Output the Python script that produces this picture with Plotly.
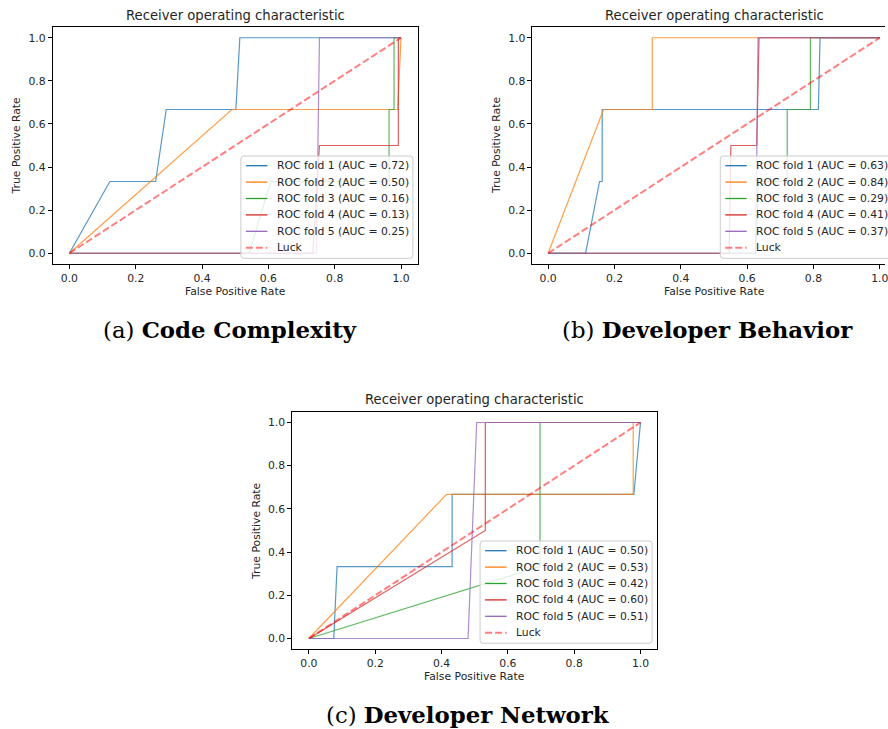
import plotly.graph_objects as go

W, H = 888, 729

FOLD_COLORS = ["#1f77b4", "#ff7f0e", "#2ca02c", "#d62728", "#9467bd"]
LUCK_COLOR = "rgba(255,0,0,0.5)"
TEXT_COLOR = "#262626"
TICKS = [0.0, 0.2, 0.4, 0.6, 0.8, 1.0]
TICK_TEXT = [f"{t:.1f}" for t in TICKS]
LUCK_FPR = [0.0, 1.0]
LUCK_TPR = [0.0, 1.0]

# (a) Code Complexity
cc_fpr = [
    [0.0, 0.122, 0.26, 0.292, 0.502, 0.514, 1.0],
    [0.0, 0.49, 0.99, 1.0],
    [0.0, 0.542, 0.607, 0.964, 0.964, 0.979, 0.979, 1.0],
    [0.0, 0.734, 0.754, 0.992, 0.992, 1.0],
    [0.0, 0.745, 0.754, 1.0],
]
cc_tpr = [
    [0.0, 0.333, 0.333, 0.667, 0.667, 1.0, 1.0],
    [0.0, 0.667, 0.667, 1.0],
    [0.0, 0.0, 0.333, 0.333, 0.667, 0.667, 1.0, 1.0],
    [0.0, 0.0, 0.5, 0.5, 1.0, 1.0],
    [0.0, 0.0, 1.0, 1.0],
]
cc_auc = [0.72, 0.50, 0.16, 0.13, 0.25]

# (b) Developer Behavior
db_fpr = [
    [0.0, 0.113, 0.155, 0.163, 0.163, 0.815, 0.82, 1.0],
    [0.0, 0.167, 0.314, 0.314, 1.0],
    [0.0, 0.625, 0.635, 0.721, 0.721, 0.791, 0.791, 1.0],
    [0.0, 0.546, 0.551, 0.629, 0.636, 1.0],
    [0.0, 0.626, 0.633, 1.0],
]
db_tpr = [
    [0.0, 0.0, 0.333, 0.333, 0.667, 0.667, 1.0, 1.0],
    [0.0, 0.667, 0.667, 1.0, 1.0],
    [0.0, 0.0, 0.333, 0.333, 0.667, 0.667, 1.0, 1.0],
    [0.0, 0.0, 0.5, 0.5, 1.0, 1.0],
    [0.0, 0.0, 1.0, 1.0],
]
db_auc = [0.63, 0.84, 0.29, 0.41, 0.37]

# (c) Developer Network
dn_fpr = [
    [0.0, 0.075, 0.085, 0.432, 0.432, 0.98, 1.0],
    [0.0, 0.415, 0.978, 0.978, 1.0],
    [0.0, 0.697, 0.697, 1.0],
    [0.0, 0.532, 0.532, 1.0],
    [0.0, 0.48, 0.506, 1.0],
]
dn_tpr = [
    [0.0, 0.0, 0.333, 0.333, 0.667, 0.667, 1.0],
    [0.0, 0.667, 0.667, 1.0, 1.0],
    [0.0, 0.333, 1.0, 1.0],
    [0.0, 0.5, 1.0, 1.0],
    [0.0, 0.0, 1.0, 1.0],
]
dn_auc = [0.50, 0.53, 0.42, 0.60, 0.51]

TITLE = "Receiver operating characteristic"
X_LABEL = "False Positive Rate"
Y_LABEL = "True Positive Rate"
CAPTIONS = ["(a) <b>Code Complexity</b>", "(b) <b>Developer Behavior</b>",
            "(c) <b>Developer Network</b>"]

# panel layout in pixels: axes box (left, top, right, bottom), x range,
# legend top-left corner, caption centre
PANELS = [
    dict(ax="", box=(53, 27, 419, 264), xr=(-0.05, 1.05), full_right=419,
         leg=(241.7, 156), cap=(230.5, 330), fpr=cc_fpr, tpr=cc_tpr, auc=cc_auc, mirror_y=True),
    dict(ax="2", box=(534.3, 27, 888, 264), xr=(-0.0472, 1.0159), full_right=900.3,
         leg=(722.7, 156), cap=(710, 330), fpr=db_fpr, tpr=db_tpr, auc=db_auc, mirror_y=False),
    dict(ax="3", box=(293.3, 411.7, 659.3, 649.3), xr=(-0.05, 1.05), full_right=659.3,
         leg=(481.7, 541), cap=(470, 715), fpr=dn_fpr, tpr=dn_tpr, auc=dn_auc, mirror_y=True),
]


def px(x):
    return x / W


def py(y):
    return 1 - y / H


fig = go.Figure()
shapes = []
annotations = []
tick_font = dict(family="DejaVu Sans", size=10.8, color=TEXT_COLOR)
small_font = dict(family="DejaVu Sans", size=10.8, color=TEXT_COLOR)

for k, p in enumerate(PANELS):
    xa, ya = "x" + p["ax"], "y" + p["ax"]
    labels = [f"ROC fold {i + 1} (AUC = {a:.2f})" for i, a in enumerate(p["auc"])]
    for i in range(5):
        fig.add_trace(go.Scatter(
            x=p["fpr"][i], y=p["tpr"][i], mode="lines", name=labels[i],
            line=dict(color=FOLD_COLORS[i], width=1.2), opacity=0.75,
            xaxis=xa, yaxis=ya, showlegend=False))
    fig.add_trace(go.Scatter(
        x=LUCK_FPR, y=LUCK_TPR, mode="lines", name="Luck",
        line=dict(color=LUCK_COLOR, width=2, dash="7px,3px"),
        xaxis=xa, yaxis=ya, showlegend=False))

    l, t, r, b = p["box"]
    axis_common = dict(showgrid=False, zeroline=False, showline=True,
                       linecolor="black", linewidth=1, ticks="outside",
                       ticklen=4, tickwidth=1, tickcolor="black",
                       tickvals=TICKS, ticktext=TICK_TEXT, tickfont=tick_font,
                       ticklabeloverflow="allow")
    fig.update_layout(**{
        "xaxis" + p["ax"]: dict(domain=[px(l), min(px(r), 1.0)], range=list(p["xr"]),
                                anchor=ya, mirror=True, **axis_common),
        "yaxis" + p["ax"]: dict(domain=[py(b), py(t)], range=[-0.05, 1.05],
                                anchor=xa, mirror=p["mirror_y"], **axis_common),
    })

    cx = (l + p["full_right"]) / 2
    annotations.append(dict(text=TITLE, x=px(cx), y=py(t - 12), xref="paper", yref="paper",
                            showarrow=False, xanchor="center", yanchor="middle",
                            font=dict(family="DejaVu Sans", size=13.2, color=TEXT_COLOR)))
    annotations.append(dict(text=X_LABEL, x=px(cx), y=py(b + 27), xref="paper", yref="paper",
                            showarrow=False, xanchor="center", yanchor="middle", font=small_font))
    annotations.append(dict(text=Y_LABEL, x=px(l - 36), y=py((t + b) / 2), xref="paper",
                            yref="paper", showarrow=False, textangle=-90,
                            xanchor="center", yanchor="middle", font=small_font))
    annotations.append(dict(text=CAPTIONS[k], x=px(p["cap"][0]), y=py(p["cap"][1]),
                            xref="paper", yref="paper", showarrow=False,
                            xanchor="center", yanchor="middle",
                            font=dict(family="DejaVu Serif", size=22.8, color="black")))

    # legend box with rounded corners
    lx, ly = p["leg"]
    lw, lh, rad = 172.6, 102.3, 3
    x0, x1, y0, y1 = lx, lx + lw, ly, ly + lh
    path = (f"M {px(x0 + rad)},{py(y0)} L {px(x1 - rad)},{py(y0)} "
            f"Q {px(x1)},{py(y0)} {px(x1)},{py(y0 + rad)} "
            f"L {px(x1)},{py(y1 - rad)} Q {px(x1)},{py(y1)} {px(x1 - rad)},{py(y1)} "
            f"L {px(x0 + rad)},{py(y1)} Q {px(x0)},{py(y1)} {px(x0)},{py(y1 - rad)} "
            f"L {px(x0)},{py(y0 + rad)} Q {px(x0)},{py(y0)} {px(x0 + rad)},{py(y0)} Z")
    shapes.append(dict(type="path", path=path, xref="paper", yref="paper",
                       fillcolor="rgba(255,255,255,0.8)",
                       line=dict(color="#cccccc", width=1), layer="above"))
    entries = [(labels[i], dict(color=FOLD_COLORS[i], width=1.3)) for i in range(5)]
    entries.append(("Luck", dict(color=LUCK_COLOR, width=2, dash="7px,3px")))
    for j, (txt, ln) in enumerate(entries):
        ry = ly + 9.7 + 16.4 * j
        shapes.append(dict(type="line", xref="paper", yref="paper",
                           x0=px(lx + 5), x1=px(lx + 26.6), y0=py(ry), y1=py(ry),
                           line=ln, layer="above"))
        annotations.append(dict(text=txt, x=px(lx + 34.3), y=py(ry), xref="paper",
                                yref="paper", showarrow=False, xanchor="left",
                                yanchor="middle", font=small_font))

fig.update_layout(
    width=W, height=H, margin=dict(l=0, r=0, t=0, b=0),
    paper_bgcolor="white", plot_bgcolor="white",
    showlegend=False, shapes=shapes, annotations=annotations,
)

fig.write_html("out.html")
